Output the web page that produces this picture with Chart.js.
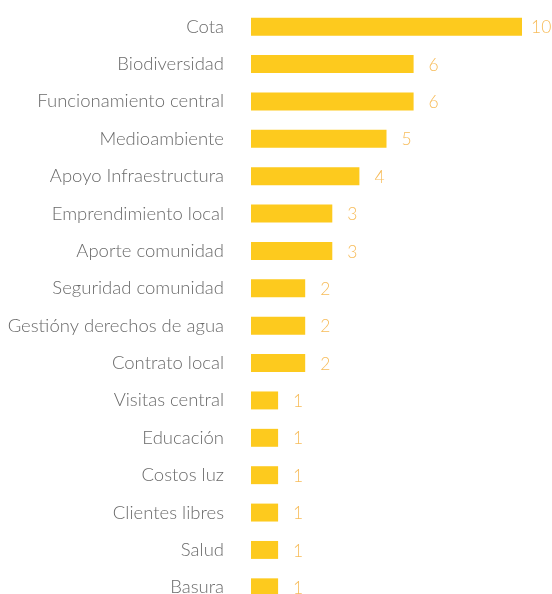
<!DOCTYPE html>
<html>
<head>
<meta charset="utf-8">
<script src="https://cdn.jsdelivr.net/npm/chart.js@4"></script>
<style>
  html, body { margin: 0; padding: 0; background: #fff; overflow: hidden; }
  canvas { display: block; }
</style>
</head>
<body>
<canvas id="myChart" width="552" height="606"></canvas>
<script>
const categories = [
    "Cota", "Biodiversidad", "Funcionamiento central", "Medioambiente",
    "Apoyo Infraestructura", "Emprendimiento local", "Aporte comunidad",
    "Seguridad comunidad", "Gestióny derechos de agua", "Contrato local",
    "Visitas central", "Educación", "Costos luz", "Clientes libres",
    "Salud", "Basura"
];
const counts = [10, 6, 6, 5, 4, 3, 3, 2, 2, 2, 1, 1, 1, 1, 1, 1];

const fontFamily = "Lato, 'Open Sans', sans-serif";

// writes the count to the right of each bar
const valueLabels = {
    id: 'valueLabels',
    afterDatasetsDraw(chart) {
        const c = chart.ctx;
        const meta = chart.getDatasetMeta(0);
        c.save();
        c.font = "300 17.5px " + fontFamily;
        c.fillStyle = "#f7bc5a";
        c.textAlign = "left";
        c.textBaseline = "middle";
        meta.data.forEach((bar, i) => {
            const gap = counts[i] >= 10 ? 9 : 15;
            c.fillText(counts[i], bar.x + gap, bar.y + 1);
        });
        c.restore();
    }
};

new Chart(document.getElementById('myChart'), {
    type: 'bar',
    data: {
        labels: categories,
        datasets: [{
            data: counts,
            backgroundColor: "#fdca1e",
            barPercentage: 0.48,
            categoryPercentage: 1,
        }]
    },
    options: {
        indexAxis: 'y',
        responsive: false,
        animation: false,
        layout: {
            padding: { top: 8, right: 30, bottom: 0, left: 0 }
        },
        plugins: {
            legend: { display: false },
            tooltip: { enabled: false }
        },
        scales: {
            x: {
                display: false,
                min: 0,
                max: 10,
            },
            y: {
                afterFit(scale) {
                    // fixed label column, no extra room above/below
                    scale.width = 251;
                    scale.paddingTop = 0;
                    scale.paddingBottom = 0;
                },
                grid: { display: false, drawTicks: false },
                border: { display: false },
                ticks: {
                    padding: 27,
                    color: "#6a6a6a",
                    font: { family: fontFamily, size: 18.5, weight: 300 }
                }
            }
        }
    },
    plugins: [valueLabels]
});
</script>
</body>
</html>
